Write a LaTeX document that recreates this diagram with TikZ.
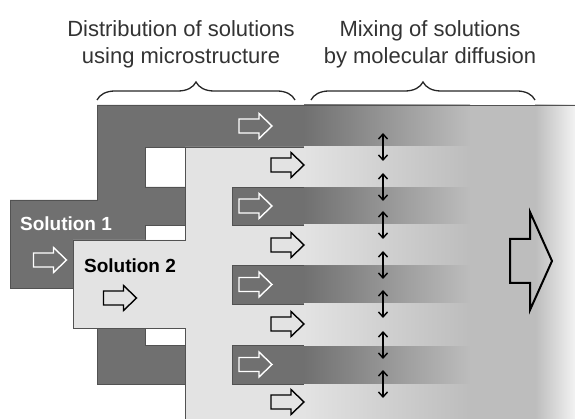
\documentclass[tikz,border=0pt]{standalone}
\usepackage{fontspec}
\setmainfont{Liberation Sans}
\usetikzlibrary{arrows.meta,decorations.pathreplacing}

\definecolor{soldark}{gray}{0.44}
\definecolor{sollight}{gray}{0.89}
\definecolor{solmix}{gray}{0.74}
\definecolor{soledge}{gray}{0.32}
\definecolor{solfade}{gray}{0.95}

\tikzset{
  flowarrow/.pic={
    \path[line width=1.4pt, line join=miter, pic actions]
      (-16.5,-7) -- (3.5,-7) -- (3.5,-12.5) -- (16.5,0) -- (3.5,12.5) -- (3.5,7) -- (-16.5,7) -- cycle;
  },
  titletext/.style={align=center, text=black!80, font=\fontsize{22}{27}\selectfont},
  sollabel/.style={font=\bfseries\fontsize{19}{22}\selectfont},
}

\begin{document}
\begin{tikzpicture}[>={Straight Barb[length=5pt,width=9pt]}, x=1pt, y=1pt, yscale=-1]
  \useasboundingbox (0,0) rectangle (575,419);

  % solution 1 layer
  \path[fill=soldark, draw=soledge, line width=0.6pt, line join=miter]
    (305,105) -- (97,105) -- (97,200) -- (10,200) -- (10,288) -- (97,288) -- (97,384)
    -- (185,384) -- (185,345) -- (145,345) -- (145,225) -- (185,225) -- (185,187)
    -- (145,187) -- (145,147) -- (305,147);

  % solution 2 layer
  \path[fill=sollight, draw=soledge, line width=0.6pt, line join=miter]
    (305,147) -- (185,147) -- (185,240) -- (73,240) -- (73,328) -- (185,328) -- (185,419) -- (305,419);

  % microchannels of solution 1
  \foreach \ya/\yb in {187/225, 265/304, 345/384}
    \path[fill=soldark, draw=soledge, line width=0.6pt]
      (305,\ya) -- (232,\ya) -- (232,\yb) -- (305,\yb);

  % mixing zone
  \fill[solmix] (469,105) rectangle (536,419);
  \shade[left color=solmix, right color=solfade] (535,105) rectangle (575,419);
  \foreach \ya/\yb in {105/147, 187/225, 265/304, 345/384}
    \shade[left color=soldark, right color=solmix] (304,\ya) rectangle (470,\yb);
  \foreach \ya/\yb in {147/187, 225/265, 304/345, 384/419}
    \shade[left color=sollight, right color=solmix] (304,\ya) rectangle (470,\yb);
  \path[draw=soledge, line width=0.8pt] (97,105) -- (575,105);

  % diffusion
  \foreach \y in {147, 187, 225, 265, 304, 345, 384}
    \path[<->, draw=black, line width=1.4pt] (383,\y-14) -- (383,\y+14);

  % flow directions
  \foreach \y in {126, 206, 284.5, 364.5}
    \pic[draw=white, fill=soldark] at (255.5,\y) {flowarrow};
  \foreach \y in {165, 245, 324, 402}
    \pic[draw=black, fill=sollight] at (287.5,\y) {flowarrow};
  \pic[draw=white] at (50,260) {flowarrow};
  \pic[draw=black] at (120,298) {flowarrow};
  \path[draw=black, line width=2pt, line join=miter]
    (510,239) -- (530,239) -- (530,212) -- (552,261) -- (530,310) -- (530,283) -- (510,283) -- cycle;

  \node[sollabel, text=white] (solOne) at (66,224) {Solution 1};
  \node[sollabel, text=black] (solTwo) at (130,266) {Solution 2};

  \node[titletext] (distTitle) at (181,44) {Distribution of solutions\\using microstructure};
  \node[titletext] (mixTitle) at (430,44) {Mixing of solutions\\by molecular diffusion};
  \path[draw=black!85, line width=1.3pt, decorate, decoration={brace, amplitude=18pt}]
    (97,100) -- (295,100);
  \path[draw=black!85, line width=1.3pt, decorate, decoration={brace, amplitude=18pt}]
    (311,100) -- (535,100);
\end{tikzpicture}
\end{document}
